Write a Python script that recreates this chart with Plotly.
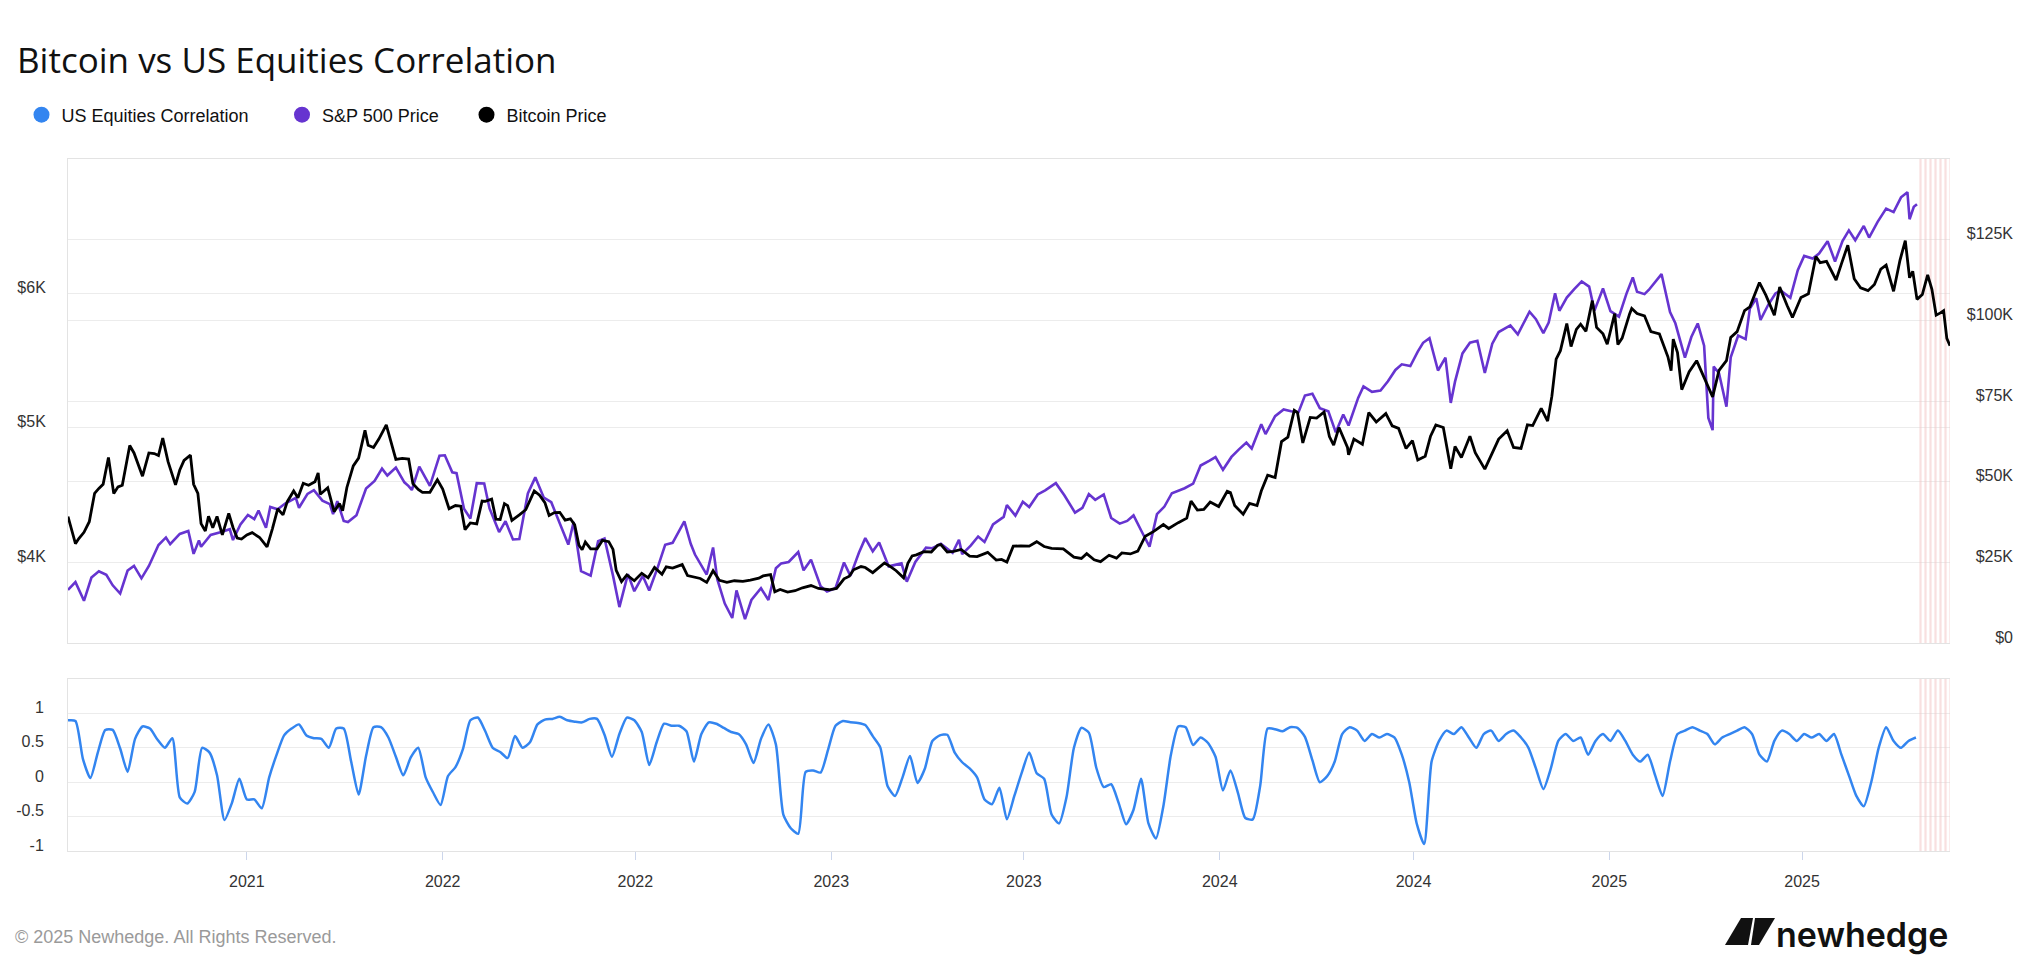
import plotly.graph_objects as go
import pandas as pd

TITLE = "Bitcoin vs US Equities Correlation"
FOOTER = "© 2025 Newhedge. All Rights Reserved."
LOGO_TEXT = "newhedge"

SERIES_NAMES = ["US Equities Correlation", "S&P 500 Price", "Bitcoin Price"]
COLORS = {"corr": "#3385f0", "spx": "#6634d0", "btc": "#000000"}

# ---------------- Bitcoin price (USD thousands) ----------------
BTC_DATES = [
    "2021-01-14", "2021-01-17", "2021-01-21", "2021-01-24", "2021-01-29", "2021-02-03", "2021-02-08", "2021-02-12",
    "2021-02-16", "2021-02-21", "2021-02-26", "2021-03-02", "2021-03-06", "2021-03-13", "2021-03-17", "2021-03-25",
    "2021-03-31", "2021-04-05", "2021-04-09", "2021-04-13", "2021-04-18", "2021-04-25", "2021-04-29", "2021-05-03",
    "2021-05-09", "2021-05-12", "2021-05-16", "2021-05-19", "2021-05-23", "2021-05-26", "2021-05-30", "2021-06-03",
    "2021-06-08", "2021-06-14", "2021-06-18", "2021-06-22", "2021-06-26", "2021-07-01", "2021-07-06", "2021-07-13",
    "2021-07-20", "2021-07-25", "2021-07-30", "2021-08-04", "2021-08-08", "2021-08-14", "2021-08-18", "2021-08-23",
    "2021-08-28", "2021-09-03", "2021-09-06", "2021-09-08", "2021-09-15", "2021-09-21", "2021-09-26", "2021-09-29",
    "2021-10-03", "2021-10-09", "2021-10-14", "2021-10-20", "2021-10-23", "2021-10-28", "2021-11-02", "2021-11-09",
    "2021-11-12", "2021-11-18", "2021-11-24", "2021-11-30", "2021-12-04", "2021-12-09", "2021-12-13", "2021-12-20",
    "2021-12-27",
    "2022-01-01", "2022-01-07", "2022-01-13", "2022-01-18", "2022-01-22", "2022-01-27", "2022-02-02", "2022-02-07",
    "2022-02-10", "2022-02-16", "2022-02-20", "2022-02-24", "2022-02-28", "2022-03-03", "2022-03-07", "2022-03-14",
    "2022-03-20", "2022-03-28", "2022-04-02", "2022-04-07", "2022-04-11", "2022-04-16", "2022-04-21", "2022-04-26",
    "2022-05-01", "2022-05-05", "2022-05-09", "2022-05-12", "2022-05-15", "2022-05-20", "2022-05-26", "2022-05-31",
    "2022-06-06", "2022-06-10", "2022-06-13", "2022-06-18", "2022-06-23", "2022-06-30", "2022-07-07", "2022-07-13",
    "2022-07-19", "2022-07-26", "2022-07-30", "2022-08-05", "2022-08-10", "2022-08-14", "2022-08-19", "2022-08-26",
    "2022-08-31", "2022-09-06", "2022-09-12", "2022-09-18", "2022-09-25", "2022-10-02", "2022-10-10", "2022-10-17",
    "2022-10-25", "2022-10-29", "2022-11-05", "2022-11-09", "2022-11-14", "2022-11-21", "2022-11-28", "2022-12-05",
    "2022-12-13", "2022-12-20", "2022-12-30",
    "2023-01-06", "2023-01-13", "2023-01-18", "2023-01-22", "2023-01-29", "2023-02-02", "2023-02-09", "2023-02-16",
    "2023-02-20", "2023-02-26", "2023-03-03", "2023-03-10", "2023-03-14", "2023-03-18", "2023-03-22", "2023-03-29",
    "2023-04-05", "2023-04-11", "2023-04-14", "2023-04-20", "2023-04-26", "2023-05-03", "2023-05-11", "2023-05-18",
    "2023-05-28", "2023-06-05", "2023-06-10", "2023-06-15", "2023-06-21", "2023-06-28", "2023-07-06", "2023-07-13",
    "2023-07-20", "2023-07-27", "2023-08-07", "2023-08-17", "2023-08-24", "2023-08-29", "2023-09-05", "2023-09-11",
    "2023-09-19", "2023-09-26", "2023-10-01", "2023-10-09", "2023-10-16", "2023-10-23", "2023-10-31", "2023-11-09",
    "2023-11-14", "2023-11-23", "2023-12-01", "2023-12-05", "2023-12-11", "2023-12-17", "2023-12-23", "2023-12-31",
    "2024-01-08", "2024-01-11", "2024-01-15", "2024-01-23", "2024-01-29", "2024-02-05", "2024-02-09", "2024-02-15",
    "2024-02-22", "2024-02-28", "2024-03-05", "2024-03-11", "2024-03-14", "2024-03-19", "2024-03-26", "2024-04-01",
    "2024-04-08", "2024-04-13", "2024-04-17", "2024-04-22", "2024-04-30", "2024-05-01", "2024-05-06", "2024-05-14",
    "2024-05-20", "2024-05-27", "2024-06-05", "2024-06-11", "2024-06-17", "2024-06-24", "2024-06-30", "2024-07-05",
    "2024-07-12", "2024-07-17", "2024-07-22", "2024-07-29", "2024-08-05", "2024-08-09", "2024-08-15", "2024-08-23",
    "2024-08-28", "2024-09-06", "2024-09-12", "2024-09-19", "2024-09-27", "2024-10-03", "2024-10-10", "2024-10-16",
    "2024-10-21", "2024-10-29", "2024-11-04", "2024-11-08", "2024-11-12", "2024-11-16", "2024-11-22", "2024-11-26",
    "2024-12-01", "2024-12-05", "2024-12-10", "2024-12-16", "2024-12-20", "2024-12-26", "2024-12-30",
    "2025-01-06", "2025-01-09", "2025-01-13", "2025-01-20", "2025-01-22", "2025-01-27", "2025-02-03", "2025-02-09",
    "2025-02-17", "2025-02-25", "2025-02-28", "2025-03-02", "2025-03-06", "2025-03-10", "2025-03-17", "2025-03-24",
    "2025-03-31", "2025-04-06", "2025-04-08", "2025-04-14", "2025-04-21", "2025-04-25", "2025-05-01", "2025-05-08",
    "2025-05-13", "2025-05-22", "2025-05-28", "2025-06-05", "2025-06-10", "2025-06-17", "2025-06-22", "2025-06-30",
    "2025-07-07", "2025-07-14", "2025-07-18", "2025-07-24", "2025-08-02", "2025-08-07", "2025-08-13", "2025-08-19",
    "2025-08-25", "2025-09-01", "2025-09-07", "2025-09-13", "2025-09-18", "2025-09-25", "2025-10-01", "2025-10-06",
    "2025-10-10", "2025-10-13", "2025-10-17", "2025-10-22", "2025-10-27", "2025-10-31", "2025-11-04", "2025-11-08",
    "2025-11-11", "2025-11-14", "2025-11-17",
]
BTC_PRICE_K = [
    39.2, 35.8, 30.8, 32.3, 34.3, 37.6, 46.4, 47.9,
    49.2, 57.5, 46.3, 48.4, 48.9, 61.2, 58.9, 51.7,
    58.9, 58.7, 58.1, 63.5, 56.2, 49.0, 53.6, 56.6,
    58.2, 49.2, 46.4, 37.0, 34.7, 39.3, 35.7, 39.2,
    33.5, 40.2, 35.8, 32.5, 32.2, 33.5, 34.2, 32.7,
    29.8, 35.4, 41.6, 39.7, 43.8, 47.1, 45.0, 49.5,
    48.9, 50.0, 52.7, 46.1, 48.1, 40.7, 43.2, 41.0,
    48.2, 54.9, 57.3, 65.9, 61.3, 60.6, 63.2, 67.6,
    64.2, 56.9, 57.2, 57.0, 49.4, 47.6, 46.7, 46.7,
    50.6,
    47.7, 41.6, 42.6, 42.4, 35.1, 37.2, 36.9, 44.0,
    43.9, 44.6, 38.4, 38.3, 43.2, 42.6, 38.0, 39.7,
    41.3, 47.1, 45.8, 43.5, 39.5, 40.4, 40.5, 38.1,
    38.5, 36.6, 30.3, 28.9, 31.3, 29.2, 29.2, 31.8,
    31.4, 29.0, 22.5, 19.0, 21.1, 19.3, 21.6, 20.2,
    23.4, 21.3, 23.6, 23.2, 23.9, 24.3, 20.9, 20.3,
    20.0, 18.8, 22.4, 19.4, 18.8, 19.3, 19.1, 19.5,
    20.1, 20.8, 21.2, 15.9, 16.6, 15.8, 16.2, 17.1,
    17.8, 16.9, 16.5,
    16.9, 19.9, 20.7, 22.7, 23.7, 23.4, 21.8, 23.6,
    24.8, 23.6, 22.4, 20.2, 24.7, 27.0, 27.3, 28.3,
    28.2, 30.3, 30.5, 28.2, 28.4, 29.0, 26.9, 26.8,
    28.1, 25.7, 25.9, 25.1, 30.0, 30.1, 30.0, 31.4,
    29.9, 29.3, 29.2, 26.6, 26.2, 27.7, 25.8, 25.2,
    27.2, 26.3, 27.9, 27.6, 28.5, 33.1, 34.6, 36.7,
    35.5, 37.3, 38.7, 44.0, 41.2, 41.4, 43.7, 42.3,
    47.0, 46.6, 42.6, 39.9, 43.3, 42.6, 47.1, 52.0,
    51.3, 62.4, 63.8, 72.1, 71.4, 62.0, 69.9, 69.7,
    71.6, 64.0, 61.3, 66.8, 60.6, 58.3, 63.2, 61.6,
    71.4, 68.5, 71.1, 67.3, 66.5, 60.3, 62.7, 56.7,
    57.9, 64.1, 67.6, 66.8, 54.0, 60.9, 57.5, 64.1,
    59.0, 53.9, 58.1, 63.2, 65.8, 60.6, 60.3, 67.6,
    67.4, 72.7, 68.8, 76.5, 88.0, 90.6, 99.0, 91.9,
    97.2, 98.8, 96.6, 106.1, 97.8, 95.8, 92.6,
    102.1, 92.5, 94.5, 102.0, 103.7, 102.1, 101.4, 96.5,
    95.8, 88.7, 84.4, 94.2, 90.0, 78.5, 84.1, 87.5,
    82.5, 78.2, 76.3, 84.5, 87.5, 94.7, 96.5, 103.0,
    104.2, 111.7, 107.8, 101.6, 110.3, 104.6, 100.9, 107.1,
    108.2, 119.8, 117.9, 118.3, 112.5, 117.5, 123.3, 112.9,
    110.1, 109.2, 111.1, 115.9, 117.1, 109.0, 118.6, 124.7,
    113.2, 115.2, 106.5, 108.0, 114.1, 109.6, 101.6, 102.3,
    103.0, 94.4, 92.1,
]

# ---------------- S&P 500 index level ----------------
SPX_DATES = [
    "2021-01-14", "2021-01-21", "2021-01-27", "2021-01-29", "2021-02-05", "2021-02-12", "2021-02-19", "2021-02-25",
    "2021-03-04", "2021-03-11", "2021-03-17", "2021-03-24", "2021-03-31", "2021-04-09", "2021-04-16", "2021-04-20",
    "2021-04-29", "2021-05-07", "2021-05-12", "2021-05-17", "2021-05-19", "2021-05-28", "2021-06-07", "2021-06-15",
    "2021-06-18", "2021-06-25", "2021-07-02", "2021-07-08", "2021-07-12", "2021-07-19", "2021-07-23", "2021-07-30",
    "2021-08-06", "2021-08-16", "2021-08-19", "2021-08-27", "2021-09-02", "2021-09-10", "2021-09-17", "2021-09-20",
    "2021-09-24", "2021-09-30", "2021-10-04", "2021-10-12", "2021-10-21", "2021-10-29", "2021-11-05", "2021-11-10",
    "2021-11-18", "2021-11-26", "2021-11-30", "2021-12-03", "2021-12-10", "2021-12-20", "2021-12-29",
    "2022-01-03", "2022-01-10", "2022-01-14", "2022-01-21", "2022-01-27", "2022-02-02", "2022-02-09", "2022-02-14",
    "2022-02-23", "2022-03-01", "2022-03-08", "2022-03-14", "2022-03-22", "2022-03-29", "2022-04-06", "2022-04-13",
    "2022-04-22", "2022-04-29", "2022-05-04", "2022-05-11", "2022-05-20", "2022-05-27", "2022-06-02", "2022-06-10",
    "2022-06-16", "2022-06-24", "2022-06-30", "2022-07-08", "2022-07-14", "2022-07-22", "2022-07-29", "2022-08-05",
    "2022-08-16", "2022-08-22", "2022-08-26", "2022-09-06", "2022-09-12", "2022-09-16", "2022-09-23", "2022-09-30",
    "2022-10-04", "2022-10-12", "2022-10-18", "2022-10-27", "2022-11-03", "2022-11-10", "2022-11-15", "2022-11-22",
    "2022-12-01", "2022-12-06", "2022-12-13", "2022-12-22", "2022-12-28",
    "2023-01-05", "2023-01-13", "2023-01-19", "2023-01-27", "2023-02-02", "2023-02-09", "2023-02-15", "2023-02-24",
    "2023-03-02", "2023-03-08", "2023-03-13", "2023-03-21", "2023-03-31", "2023-04-06", "2023-04-14", "2023-04-25",
    "2023-05-01", "2023-05-04", "2023-05-12", "2023-05-19", "2023-05-25", "2023-06-02", "2023-06-12", "2023-06-15",
    "2023-06-23", "2023-06-30", "2023-07-06", "2023-07-14", "2023-07-21", "2023-07-31", "2023-08-08", "2023-08-18",
    "2023-08-25", "2023-08-31", "2023-09-06", "2023-09-14", "2023-09-21", "2023-09-29", "2023-10-06", "2023-10-12",
    "2023-10-20", "2023-10-27", "2023-11-03", "2023-11-10", "2023-11-17", "2023-11-29", "2023-12-07", "2023-12-14",
    "2023-12-22", "2023-12-28",
    "2024-01-04", "2024-01-12", "2024-01-19", "2024-01-26", "2024-01-31", "2024-02-09", "2024-02-13", "2024-02-22",
    "2024-03-01", "2024-03-08", "2024-03-15", "2024-03-21", "2024-03-28", "2024-04-04", "2024-04-12", "2024-04-19",
    "2024-04-26", "2024-05-01", "2024-05-10", "2024-05-15", "2024-05-23", "2024-05-31", "2024-06-07", "2024-06-14",
    "2024-06-20", "2024-06-28", "2024-07-05", "2024-07-10", "2024-07-16", "2024-07-24", "2024-07-31", "2024-08-05",
    "2024-08-09", "2024-08-16", "2024-08-23", "2024-08-30", "2024-09-06", "2024-09-13", "2024-09-19", "2024-09-30",
    "2024-10-07", "2024-10-18", "2024-10-24", "2024-10-31", "2024-11-05", "2024-11-11", "2024-11-15", "2024-11-22",
    "2024-11-29", "2024-12-06", "2024-12-13", "2024-12-18", "2024-12-26",
    "2025-01-02", "2025-01-10", "2025-01-17", "2025-01-23", "2025-01-27", "2025-02-03", "2025-02-07", "2025-02-19",
    "2025-02-27", "2025-03-04", "2025-03-10", "2025-03-13", "2025-03-19", "2025-03-25", "2025-03-31", "2025-04-04",
    "2025-04-08", "2025-04-09", "2025-04-14", "2025-04-21", "2025-04-25", "2025-05-02", "2025-05-09", "2025-05-13",
    "2025-05-19", "2025-05-23", "2025-05-30", "2025-06-06", "2025-06-11", "2025-06-20", "2025-06-27", "2025-07-03",
    "2025-07-11", "2025-07-17", "2025-07-25", "2025-08-01", "2025-08-08", "2025-08-14", "2025-08-20", "2025-08-28",
    "2025-09-02", "2025-09-10", "2025-09-18", "2025-09-25", "2025-10-02", "2025-10-08", "2025-10-10", "2025-10-14",
    "2025-10-17",
]
SPX_PRICE = [
    3795, 3853, 3750, 3714, 3887, 3934, 3907, 3829,
    3768, 3939, 3974, 3881, 3973, 4129, 4185, 4135,
    4211, 4233, 4063, 4163, 4116, 4204, 4226, 4246,
    4166, 4281, 4352, 4321, 4385, 4258, 4412, 4395,
    4437, 4479, 4406, 4509, 4537, 4459, 4433, 4358,
    4455, 4308, 4300, 4351, 4549, 4605, 4697, 4646,
    4705, 4595, 4567, 4538, 4712, 4568, 4793,
    4796, 4670, 4663, 4398, 4326, 4589, 4587, 4401,
    4225, 4306, 4170, 4173, 4512, 4632, 4481, 4447,
    4272, 4132, 4300, 3935, 3901, 4158, 4177, 3901,
    3667, 3912, 3785, 3899, 3790, 3962, 4130, 4145,
    4305, 4138, 4058, 3909, 4110, 3873, 3693, 3586,
    3791, 3577, 3720, 3807, 3720, 3956, 3992, 4003,
    4076, 3941, 4020, 3822, 3783,
    3808, 3999, 3899, 4071, 4180, 4082, 4148, 3970,
    3982, 3992, 3856, 4003, 4109, 4105, 4138, 4071,
    4168, 4061, 4124, 4192, 4151, 4282, 4338, 4426,
    4348, 4450, 4411, 4505, 4536, 4589, 4499, 4370,
    4406, 4508, 4465, 4505, 4330, 4288, 4308, 4349,
    4224, 4117, 4358, 4415, 4514, 4551, 4585, 4720,
    4755, 4783,
    4688, 4784, 4840, 4891, 4846, 5027, 4954, 5087,
    5137, 5124, 5117, 5241, 5254, 5147, 5123, 4967,
    5100, 5018, 5223, 5308, 5268, 5278, 5347, 5431,
    5473, 5460, 5567, 5633, 5667, 5427, 5522, 5186,
    5344, 5554, 5634, 5648, 5408, 5626, 5713, 5762,
    5696, 5864, 5809, 5705, 5783, 6001, 5871, 5969,
    6032, 6090, 6051, 5872, 6037,
    5869, 5827, 5997, 6119, 6012, 5995, 6026, 6144,
    5861, 5778, 5615, 5522, 5676, 5777, 5612, 5074,
    4983, 5457, 5406, 5158, 5525, 5687, 5660, 5887,
    5964, 5803, 5912, 6000, 6022, 5968, 6173, 6279,
    6260, 6297, 6389, 6238, 6389, 6469, 6396, 6502,
    6416, 6532, 6631, 6605, 6715, 6753, 6552, 6644,
    6664,
]

# ---------------- Rolling correlation (weekly readings) ----------------
CORR_START = "2021-01-14"
CORR_STEP = "7D"
CORR_VALUES = [
    0.90, 0.89, 0.34, 0.06, 0.43, 0.76, 0.76, 0.49, 0.15, 0.63,
    0.81, 0.78, 0.62, 0.50, 0.64, -0.22, -0.31, -0.14, 0.50, 0.43,
    0.10, -0.55, -0.30, 0.05, -0.25, -0.25, -0.38, 0.07, 0.40, 0.68,
    0.78, 0.84, 0.68, 0.64, 0.63, 0.50, 0.78, 0.78, 0.30, -0.18,
    0.38, 0.80, 0.80, 0.65, 0.37, 0.10, 0.36, 0.50, 0.07, -0.15,
    -0.33, 0.09, 0.22, 0.48, 0.90, 0.94, 0.74, 0.50, 0.44, 0.35,
    0.67, 0.50, 0.58, 0.84, 0.91, 0.92, 0.95, 0.90, 0.88, 0.87,
    0.92, 0.92, 0.69, 0.37, 0.70, 0.94, 0.90, 0.73, 0.25, 0.58,
    0.85, 0.82, 0.82, 0.74, 0.30, 0.70, 0.87, 0.85, 0.79, 0.73,
    0.70, 0.55, 0.28, 0.63, 0.84, 0.55, -0.47, -0.67, -0.75, 0.15,
    0.17, 0.14, 0.47, 0.82, 0.89, 0.87, 0.86, 0.83, 0.67, 0.51,
    -0.06, -0.20, 0.07, 0.38, -0.01, 0.20, 0.60, 0.68, 0.69, 0.43,
    0.29, 0.20, 0.07, -0.25, -0.32, -0.08, -0.54, -0.20, 0.14, 0.43,
    0.13, 0.05, -0.47, -0.60, -0.22, 0.50, 0.79, 0.72, 0.21, -0.07,
    -0.03, -0.30, -0.61, -0.40, 0.05, -0.60, -0.82, -0.35, 0.39, 0.81,
    0.80, 0.54, 0.65, 0.57, 0.37, -0.12, 0.17, -0.15, -0.52, -0.54,
    -0.05, 0.78, 0.77, 0.74, 0.80, 0.79, 0.66, 0.32, 0.00, 0.09,
    0.30, 0.70, 0.80, 0.75, 0.60, 0.70, 0.65, 0.70, 0.65, 0.40,
    0.00, -0.60, -0.90, 0.30, 0.60, 0.75, 0.70, 0.80, 0.65, 0.50,
    0.70, 0.75, 0.60, 0.70, 0.75, 0.65, 0.50, 0.20, -0.10, 0.20,
    0.60, 0.70, 0.60, 0.65, 0.40, 0.60, 0.70, 0.60, 0.75, 0.60,
    0.40, 0.30, 0.40, 0.10, -0.20, 0.30, 0.70, 0.75, 0.80, 0.75,
    0.70, 0.55, 0.65, 0.70, 0.75, 0.80, 0.70, 0.40, 0.30, 0.60,
    0.75, 0.70, 0.60, 0.70, 0.65, 0.70, 0.60, 0.70, 0.40, 0.10,
    -0.20, -0.35, 0.00, 0.50, 0.80, 0.60, 0.50, 0.60, 0.65,
]

# shaded (hatched) period at the end of the chart
HATCH_START = "2025-10-18"
HATCH_END = "2025-11-17"

X_RANGE = ["2021-01-14", "2025-11-17"]
X_TICK_DATES = ["2021-07-01", "2022-01-01", "2022-07-01", "2023-01-01", "2023-07-01",
                "2024-01-01", "2024-07-01", "2025-01-01", "2025-07-01"]
X_TICK_LABELS = ["2021", "2022", "2022", "2023", "2023", "2024", "2024", "2025", "2025"]

SPX_RANGE = [3400, 7000]
SPX_TICKS = [4000, 5000, 6000]
SPX_TICK_LABELS = ["$4K", "$5K", "$6K"]

BTC_RANGE = [0, 150]
BTC_TICKS = [0, 25, 50, 75, 100, 125]
BTC_TICK_LABELS = ["$0", "$25K", "$50K", "$75K", "$100K", "$125K"]

CORR_RANGE = [-1, 1.5]
CORR_TICKS = [-1, -0.5, 0, 0.5, 1]
CORR_TICK_LABELS = ["-1", "-0.5", "0", "0.5", "1"]

# ---------------- figure geometry ----------------
W, H = 2025, 975
M_L, M_R, M_T, M_B = 68, 10, 159, 124
PW = W - M_L - M_R
PH = H - M_T - M_B
X_DOMAIN_END = (1950 - M_L) / PW
MAIN_DOMAIN = [(851 - 643) / PH, 1.0]
CORR_DOMAIN = [0.0, (851 - 679) / PH]

AX_FONT = dict(family="Liberation Sans, Arial, sans-serif", size=16, color="#333333")
GRID = "#ececec"
BORDER = "#e3e3e3"
LABEL_SHIFT = -6

corr_dates = pd.date_range(start=CORR_START, periods=len(CORR_VALUES), freq=CORR_STEP)
hatch_s = pd.Timestamp(HATCH_START)
hatch_e = pd.Timestamp(HATCH_END)
hatch_mid = hatch_s + (hatch_e - hatch_s) / 2
hatch_w = (hatch_e - hatch_s).total_seconds() * 1000

fig = go.Figure()

hatch_marker = dict(
    color="rgba(0,0,0,0)",
    line=dict(width=0),
    pattern=dict(shape="|", fgcolor="#f2c2c2", bgcolor="rgba(0,0,0,0)", size=5, solidity=0.45, fillmode="overlay"),
)
fig.add_trace(go.Bar(x=[hatch_mid], y=[BTC_RANGE[1] - BTC_RANGE[0]], base=[BTC_RANGE[0]], width=[hatch_w],
                     marker=hatch_marker, xaxis="x2", yaxis="y2", showlegend=False, hoverinfo="skip"))
fig.add_trace(go.Bar(x=[hatch_mid], y=[CORR_RANGE[1] - CORR_RANGE[0]], base=[CORR_RANGE[0]], width=[hatch_w],
                     marker=hatch_marker, xaxis="x", yaxis="y3", showlegend=False, hoverinfo="skip"))

fig.add_trace(go.Scatter(x=corr_dates, y=CORR_VALUES, mode="lines", name=SERIES_NAMES[0],
                         line=dict(color=COLORS["corr"], width=2.5, shape="spline", smoothing=0.6),
                         xaxis="x", yaxis="y3", showlegend=False))
fig.add_trace(go.Scatter(x=pd.to_datetime(SPX_DATES), y=SPX_PRICE, mode="lines", name=SERIES_NAMES[1],
                         line=dict(color=COLORS["spx"], width=2.6),
                         xaxis="x2", yaxis="y", showlegend=False))
fig.add_trace(go.Scatter(x=pd.to_datetime(BTC_DATES), y=BTC_PRICE_K, mode="lines", name=SERIES_NAMES[2],
                         line=dict(color=COLORS["btc"], width=2.8),
                         xaxis="x2", yaxis="y2", showlegend=False))

# legend entries (one legend per entry so the spacing matches)
for name, key, lg in zip(SERIES_NAMES, ["corr", "spx", "btc"], ["legend", "legend2", "legend3"]):
    fig.add_trace(go.Scatter(x=[None], y=[None], mode="markers", name=name,
                             marker=dict(color=COLORS[key], size=16), legend=lg,
                             xaxis="x", yaxis="y3", showlegend=True, hoverinfo="skip"))

legend_common = dict(orientation="h", xref="container", yref="container", xanchor="left", yanchor="middle",
                     y=1 - 115 / H, bgcolor="rgba(0,0,0,0)", itemsizing="trace",
                     font=dict(family="Liberation Sans, Arial, sans-serif", size=18, color="#111111"))

fig.update_layout(
    width=W, height=H,
    margin=dict(l=M_L, r=M_R, t=M_T, b=M_B, pad=0),
    paper_bgcolor="white", plot_bgcolor="white",
    font=dict(family="Liberation Sans, Arial, sans-serif", size=16, color="#333333"),
    title=dict(text=TITLE, x=17 / W, xref="container", xanchor="left", y=1 - 61 / H, yref="container",
               yanchor="middle", font=dict(family="Open Sans, Noto Sans, sans-serif", size=35, color="#111111")),
    legend=dict(legend_common, x=21.5 / W),
    legend2=dict(legend_common, x=282 / W),
    legend3=dict(legend_common, x=466.5 / W),
    bargap=0,
    hovermode=False,
    xaxis=dict(domain=[0, X_DOMAIN_END], anchor="y3", type="date", range=X_RANGE,
               tickvals=X_TICK_DATES, ticktext=X_TICK_LABELS, tickfont=AX_FONT,
               ticks="outside", ticklen=8, tickcolor="#ccd6eb", ticklabelstandoff=8,
               showgrid=False, showline=True, linecolor=BORDER, mirror=True, zeroline=False),
    xaxis2=dict(domain=[0, X_DOMAIN_END], anchor="y", type="date", range=X_RANGE, matches="x",
                showticklabels=False, ticks="", showgrid=False, showline=True, linecolor=BORDER,
                mirror=True, zeroline=False),
    yaxis=dict(domain=MAIN_DOMAIN, anchor="x2", range=SPX_RANGE, tickvals=SPX_TICKS, ticktext=SPX_TICK_LABELS,
               tickfont=AX_FONT, ticks="", ticklabelstandoff=18, ticklabelshift=LABEL_SHIFT,
               showgrid=True, gridcolor=GRID, gridwidth=1, zeroline=False,
               showline=True, linecolor=BORDER),
    yaxis2=dict(overlaying="y", anchor="free", side="left", position=(2013 - M_L) / PW,
                range=BTC_RANGE, tickvals=BTC_TICKS, ticktext=BTC_TICK_LABELS, tickfont=AX_FONT,
                ticks="", ticklabelshift=LABEL_SHIFT, showgrid=True, gridcolor=GRID, gridwidth=1,
                zeroline=False, showline=False, automargin=False),
    yaxis3=dict(domain=CORR_DOMAIN, anchor="x", range=CORR_RANGE, tickvals=CORR_TICKS,
                ticktext=CORR_TICK_LABELS, tickfont=AX_FONT, ticks="", ticklabelstandoff=20,
                ticklabelshift=LABEL_SHIFT,
                showgrid=True, gridcolor=GRID, gridwidth=1, zeroline=False,
                showline=True, linecolor=BORDER),
)

# footer
fig.add_annotation(text=FOOTER, xref="paper", yref="paper", x=(13 - M_L) / PW, y=(851 - 937) / PH,
                   xanchor="left", yanchor="middle", showarrow=False,
                   font=dict(family="Liberation Sans, Arial, sans-serif", size=18, color="#9a9a9a"))

# logo
LOGO_X = (1725 - M_L) / PW
LOGO_Y = (851 - 945) / PH
logo_common = dict(type="path", xref="paper", yref="paper", xsizemode="pixel", ysizemode="pixel",
                   xanchor=LOGO_X, yanchor=LOGO_Y, fillcolor="#111111", line=dict(width=0), layer="above")
fig.add_shape(path="M0,0 L16,27 L28,27 L23,0 Z", **logo_common)
fig.add_shape(path="M30,27 L50,27 L34,0 L26,0 Z", **logo_common)
fig.add_annotation(text=LOGO_TEXT, xref="paper", yref="paper", x=(1950 - M_L) / PW, y=(851 - 934) / PH,
                   xanchor="right", yanchor="middle", showarrow=False,
                   font=dict(family="Inter, Liberation Sans, sans-serif", size=34, color="#111111", weight=600))

fig.write_html("out.html")
